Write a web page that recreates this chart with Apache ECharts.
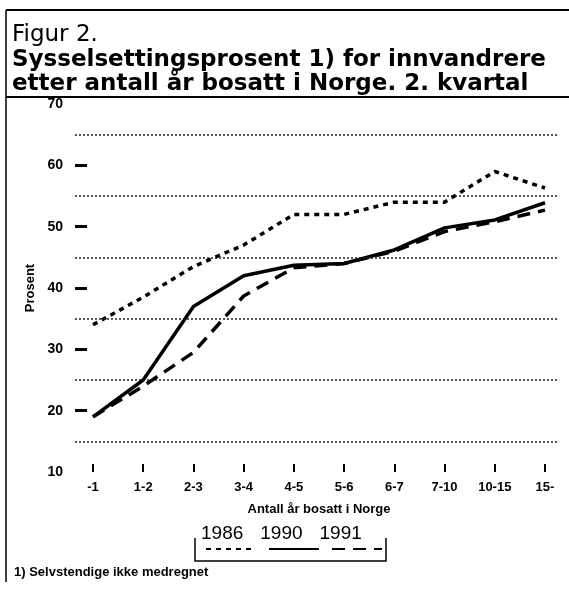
<!DOCTYPE html>
<html>
<head>
<meta charset="utf-8">
<script src="https://cdn.jsdelivr.net/npm/echarts@6/dist/echarts.min.js"></script>
<style>
  html, body { margin: 0; padding: 0; background: #fff; }
  #chart { width: 569px; height: 595px; }
</style>
</head>
<body>
<div id="chart"></div>
<script>
const categories = ['-1', '1-2', '2-3', '3-4', '4-5', '5-6', '6-7', '7-10', '10-15', '15-'];
const s1986 = [34, 38.5, 43.5, 47, 52, 52, 54, 54, 59, 56.3];
const s1990 = [19, 25, 37, 42, 43.7, 44, 46.2, 49.8, 51.1, 53.9];
const s1991 = [19, 24, 29.5, 38.7, 43.3, 44, 46, 49.2, 50.8, 52.7];
const seriesNames = ['1986', '1990', '1991'];
const yTickValues = [20, 30, 40, 50, 60];
const gridValues = [15, 25, 35, 45, 55, 65];

const FONT = 'Liberation Sans';
const chart = echarts.init(document.getElementById('chart'), null, { renderer: 'canvas' });

const option = {
  backgroundColor: '#ffffff',
  animation: false,
  title: [
    {
      left: 12, top: 23, padding: 0,
      text: '{a|Figur 2.}\n{b|Sysselsettingsprosent 1) for innvandrere}\n{b|etter antall år bosatt i Norge. 2. kvartal}',
      textStyle: {
        rich: {
          a: { fontFamily: 'DejaVu Sans', fontSize: 23, fontWeight: 'normal', color: '#000', lineHeight: 25 },
          b: { fontFamily: 'DejaVu Sans', fontSize: 23, fontWeight: 'bold', color: '#000', lineHeight: 24 }
        }
      }
    },
    {
      left: 14, top: 566, padding: 0,
      text: '1) Selvstendige ikke medregnet',
      textStyle: { fontFamily: FONT, fontSize: 13, fontWeight: 'bold', color: '#000' }
    }
  ],
  legend: [
    {
      data: seriesNames,
      left: 191, top: 519,
      itemWidth: 0, itemHeight: 0, itemGap: 12,
      icon: 'rect',
      textStyle: { fontFamily: FONT, fontSize: 19, color: '#000' },
      selectedMode: false
    },
    {
      data: seriesNames,
      left: 200, top: 540,
      itemWidth: 50, itemHeight: 8, itemGap: 11,
      itemStyle: { opacity: 0 },
      formatter: function () { return ''; },
      selectedMode: false
    }
  ],
  grid: [
    { left: 75, right: 11, top: 104, bottom: 123 },
    { left: 93, right: 24, top: 104, bottom: 123 }
  ],
  xAxis: [
    { gridIndex: 0, type: 'value', min: 0, max: 1, show: false },
    {
      gridIndex: 1, type: 'category', data: categories, boundaryGap: false,
      axisLine: { show: false },
      axisTick: { show: true, inside: true, length: 8, lineStyle: { color: '#000', width: 2 } },
      axisLabel: { fontFamily: FONT, fontSize: 13, fontWeight: 'bold', color: '#000', margin: 9, interval: 0 },
      name: 'Antall år bosatt i Norge',
      nameLocation: 'middle', nameGap: 31,
      nameTextStyle: { fontFamily: FONT, fontSize: 13, fontWeight: 'bold', color: '#000' }
    }
  ],
  yAxis: [
    {
      gridIndex: 0, type: 'value', min: 10, max: 70, interval: 10,
      axisLine: { show: false },
      axisTick: { show: true, inside: true, length: 12, customValues: yTickValues, lineStyle: { color: '#000', width: 3 } },
      axisLabel: { fontFamily: FONT, fontSize: 14, fontWeight: 'bold', color: '#000', margin: 12 },
      splitLine: { show: false },
      name: 'Prosent', nameLocation: 'middle', nameGap: 36, nameRotate: 90,
      nameTextStyle: { fontFamily: FONT, fontSize: 13, fontWeight: 'bold', color: '#000' }
    },
    { gridIndex: 1, type: 'value', min: 10, max: 70, show: false, splitLine: { show: false } }
  ],
  series: [
    {
      name: '_grid', type: 'line', xAxisIndex: 0, yAxisIndex: 0,
      data: [[0, 10]], showSymbol: false, symbol: 'none', silent: true,
      lineStyle: { width: 0 },
      markLine: {
        silent: true, symbol: 'none', label: { show: false },
        lineStyle: { color: '#222', width: 1.5, type: [2, 2] },
        data: gridValues.map(v => ({ yAxis: v }))
      }
    },
    {
      name: '1986', type: 'line', xAxisIndex: 1, yAxisIndex: 1, data: s1986,
      symbol: 'none', color: '#000',
      lineStyle: { color: '#000', width: 3.5, type: [5, 5] }
    },
    {
      name: '1990', type: 'line', xAxisIndex: 1, yAxisIndex: 1, data: s1990,
      symbol: 'none', color: '#000',
      lineStyle: { color: '#000', width: 3.5, type: 'solid' }
    },
    {
      name: '1991', type: 'line', xAxisIndex: 1, yAxisIndex: 1, data: s1991,
      symbol: 'none', color: '#000',
      lineStyle: { color: '#000', width: 3.5, type: [13, 8] }
    }
  ],
  graphic: [
    { type: 'line', shape: { x1: 6, y1: 10, x2: 569, y2: 10 }, style: { stroke: '#000', lineWidth: 2 } },
    { type: 'line', shape: { x1: 6, y1: 10, x2: 6, y2: 582 }, style: { stroke: '#000', lineWidth: 1.5 } },
    { type: 'line', shape: { x1: 6, y1: 97, x2: 569, y2: 97 }, style: { stroke: '#000', lineWidth: 2 } },
    { type: 'polyline', shape: { points: [[195, 538], [195, 561], [386, 561], [386, 538]] }, style: { stroke: '#000', lineWidth: 1.5, fill: null } }
  ]
};
chart.setOption(option);
</script>
</body>
</html>
